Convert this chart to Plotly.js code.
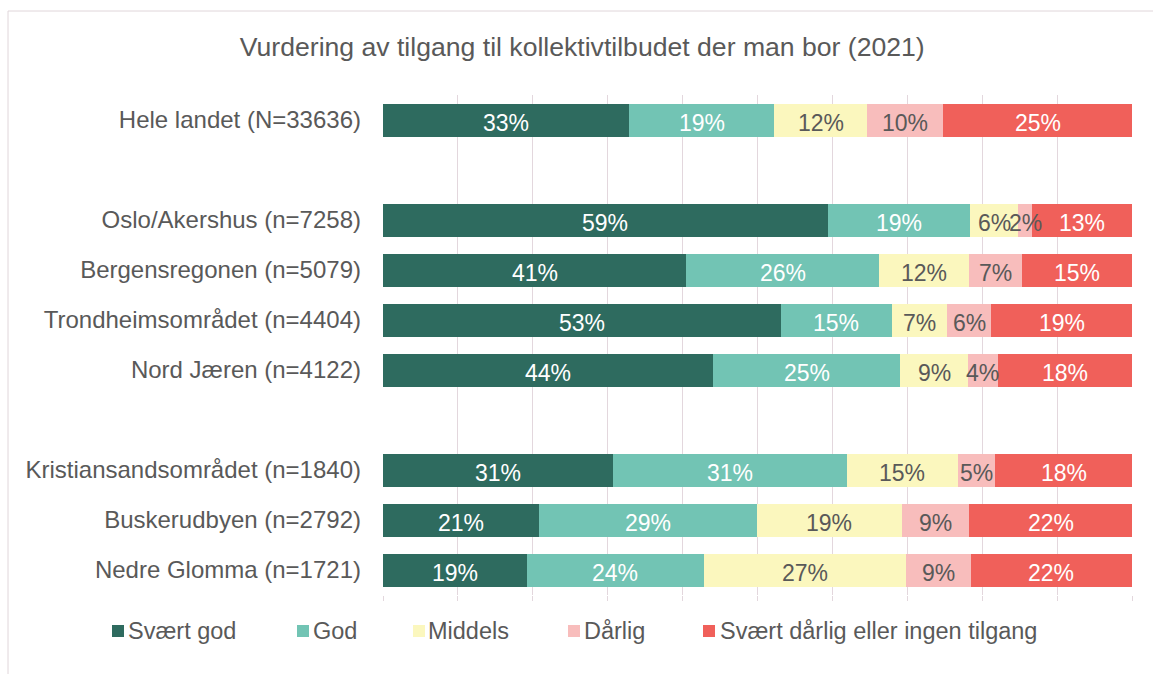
<!DOCTYPE html>
<html>
<head>
<meta charset="utf-8">
<script src="https://cdn.plot.ly/plotly-3.0.1.min.js"></script>
<style>html,body{margin:0;padding:0;background:#fff;}#chart{width:1153px;height:674px;}</style>
</head>
<body>
<div id="chart"></div>
<script>
// Categories (blank strings are spacer rows)
const categories = [
  "Hele landet (N=33636)",
  " ",
  "Oslo/Akershus (n=7258)",
  "Bergensregonen (n=5079)",
  "Trondheimsområdet (n=4404)",
  "Nord Jæren (n=4122)",
  "  ",
  "Kristiansandsområdet (n=1840)",
  "Buskerudbyen (n=2792)",
  "Nedre Glomma (n=1721)"
];
const seriesNames = ["Svært god", "God", "Middels", "Dårlig", "Svært dårlig eller ingen tilgang"];
// Percent values per series (null for spacer rows)
const svaertGod    = [32.87, null, 59.41, 40.51, 53.13, 44.09, null, 30.69, 20.80, 19.20];
const god          = [19.33, null, 18.97, 25.76, 14.79, 24.98, null, 31.22, 29.13, 23.60];
const middels      = [12.46, null,  6.42, 11.98,  7.43,  9.03, null, 14.87, 19.33, 27.03];
const daarlig      = [10.12, null,  1.87,  7.12,  5.88,  3.98, null,  4.94,  8.99,  8.65];
const svaertDaarlig= [25.22, null, 13.33, 14.63, 18.77, 17.92, null, 18.28, 21.75, 21.52];

const colors = ["#2E6B5F", "#72C4B4", "#FBF7BE", "#F8BDBC", "#F0605A"];
const textColors = ["#FFFFFF", "#FFFFFF", "#595959", "#595959", "#FFFFFF"];
const values = [svaertGod, god, middels, daarlig, svaertDaarlig];
const FONT = "Liberation Sans, Arial, sans-serif";
const TEXT = "#595959";

const traces = values.map((v, i) => ({
  type: "bar",
  orientation: "h",
  name: seriesNames[i],
  y: categories,
  x: v,
  marker: {color: colors[i], line: {width: 0}},
  textposition: "none",
  hoverinfo: "name+x",
  showlegend: false
}));

const annotations = [];
// Segment labels, centred on each stacked segment (positions computed from the data)
const cumulative = categories.map(() => 0);
values.forEach((v, i) => {
  v.forEach((val, k) => {
    if (val === null) return;
    const mid = cumulative[k] + val / 2;
    cumulative[k] += val;
    annotations.push({
      xref: "x", yref: "y",
      x: mid, y: categories[k],
      xanchor: "center", yanchor: "middle",
      yshift: -3,
      text: Math.round(val) + "%",
      showarrow: false,
      font: {family: FONT, size: 23, color: textColors[i]}
    });
  });
});

// Custom legend (layout-level positions in pixels converted to paper coords)
const plotLeft = 383, plotWidth = 749, plotBottom = 595, plotHeight = 500;
const px2x = p => (p - plotLeft) / plotWidth;
const px2y = p => (plotBottom - p) / plotHeight;
const legendSquareLeft = [112, 297, 413, 568, 703];
const legendTextLeft = [126, 311, 426, 582, 718];
const legendCenterY = 631;

const shapes = [{
  type: "rect", xref: "paper", yref: "paper",
  x0: px2x(8), x1: 1.2, y0: -0.3, y1: px2y(11),
  line: {color: "#E0D6DA", width: 1},
  fillcolor: "rgba(0,0,0,0)",
  layer: "below"
}];
seriesNames.forEach((n, i) => {
  shapes.push({
    type: "rect", xref: "paper", yref: "paper",
    x0: px2x(legendSquareLeft[i]), x1: px2x(legendSquareLeft[i] + 12),
    y0: px2y(legendCenterY + 6), y1: px2y(legendCenterY - 6),
    line: {width: 0}, fillcolor: colors[i]
  });
  annotations.push({
    xref: "paper", yref: "paper",
    x: px2x(legendTextLeft[i]), y: px2y(legendCenterY),
    xanchor: "left", yanchor: "middle",
    text: n, showarrow: false,
    font: {family: FONT, size: 23.5, color: TEXT}
  });
});

const gridColor = "#E3D7DD";
const layout = {
  width: 1153,
  height: 674,
  paper_bgcolor: "#FFFFFF",
  plot_bgcolor: "#FFFFFF",
  barmode: "stack",
  bargap: 0.34,
  showlegend: false,
  margin: {l: 383, r: 21, t: 95, b: 79},
  font: {family: FONT, color: TEXT},
  title: {
    text: "Vurdering av tilgang til kollektivtilbudet der man bor (2021)",
    font: {family: FONT, size: 26.6, color: TEXT},
    x: 0.505, xref: "container", xanchor: "center",
    y: 0.930, yref: "container", yanchor: "middle"
  },
  xaxis: {
    range: [0, 100],
    dtick: 10,
    tick0: 0,
    showgrid: true,
    gridcolor: gridColor,
    gridwidth: 1,
    zeroline: false,
    showline: false,
    showticklabels: false,
    ticks: "outside",
    ticklen: 5,
    tickcolor: gridColor,
    fixedrange: true
  },
  yaxis: {
    type: "category",
    categoryorder: "array",
    categoryarray: categories,
    autorange: "reversed",
    showgrid: false,
    zeroline: false,
    showline: false,
    ticks: "",
    ticklabelstandoff: 21,
    tickfont: {family: FONT, size: 24, color: TEXT},
    fixedrange: true
  },
  shapes: shapes,
  annotations: annotations
};

Plotly.newPlot("chart", traces, layout, {displayModeBar: false, staticPlot: true});
</script>
</body>
</html>
